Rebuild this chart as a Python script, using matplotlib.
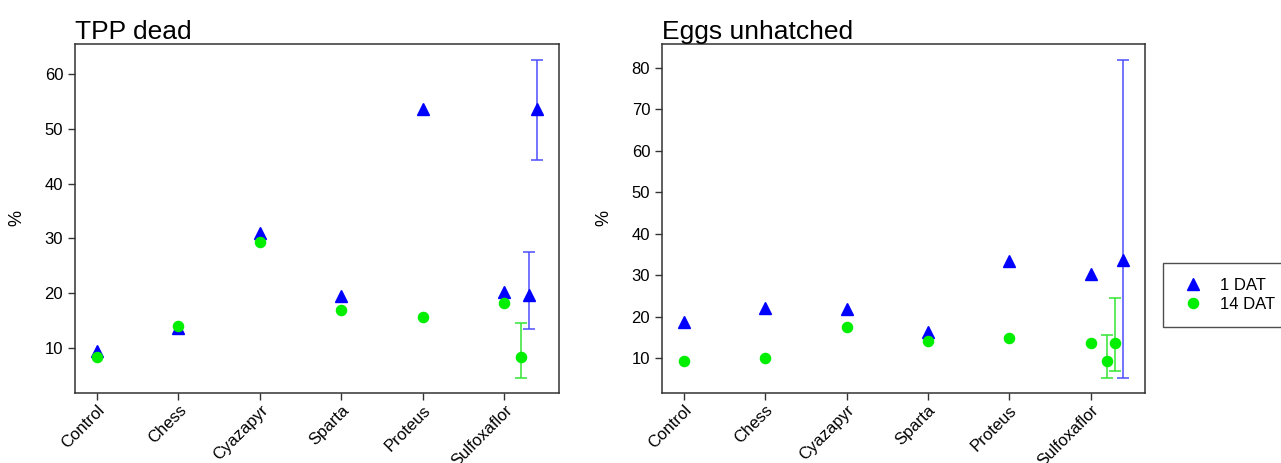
import matplotlib
matplotlib.use("Agg")
import matplotlib.pyplot as plt
from matplotlib.lines import Line2D

plt.rcParams['font.family'] = ['Liberation Sans', 'DejaVu Sans']

# categories on the x axis
treatments = ['Control', 'Chess', 'Cyazapyr', 'Sparta', 'Proteus', 'Sulfoxaflor']

# TPP dead (%)
tpp_1dat = [9.5, 13.6, 31.0, 19.5, 53.6, 20.3]
tpp_14dat = [8.3, 14.0, 29.3, 17.0, 15.7, 18.2]

# Eggs unhatched (%)
egg_1dat = [18.8, 22.0, 21.8, 16.2, 33.5, 30.3]
egg_14dat = [9.4, 10.0, 17.6, 14.2, 14.9, 13.6]

# extra points with error bars, right of Sulfoxaflor
tpp_err_x = [5.2, 5.3, 5.4]
tpp_err_series = ['14 DAT', '1 DAT', '1 DAT']
tpp_err_y = [8.3, 19.7, 53.6]
tpp_err_lo = [4.5, 13.5, 44.4]
tpp_err_hi = [14.6, 27.5, 62.5]

egg_err_x = [5.2, 5.3, 5.4]
egg_err_series = ['14 DAT', '14 DAT', '1 DAT']
egg_err_y = [9.4, 13.6, 33.7]
egg_err_lo = [5.3, 6.9, 5.2]
egg_err_hi = [15.5, 24.5, 81.8]

BLUE = '#0000ff'
GREEN = '#00ee00'
style = {
    '1 DAT': dict(marker='^', color=BLUE, ms=8, ecolor='#4d4dff'),
    '14 DAT': dict(marker='o', color=GREEN, ms=7.3, ecolor='#33e633'),
}


def panel(ax, title, d1, d14, ex, es, ey, elo, ehi, yticks, ylim):
    x = list(range(len(treatments)))
    ax.plot(x, d1, linestyle='none', marker='^', color=BLUE, ms=8, zorder=3)
    ax.plot(x, d14, linestyle='none', marker='o', color=GREEN, ms=7.3, zorder=3)
    for xi, s, yi, lo, hi in zip(ex, es, ey, elo, ehi):
        st = style[s]
        ax.errorbar([xi], [yi], yerr=[[yi - lo], [hi - yi]], fmt='none',
                    ecolor=st['ecolor'], elinewidth=1.1, capsize=4, capthick=1.1, zorder=2)
        ax.plot([xi], [yi], linestyle='none', marker=st['marker'], color=st['color'],
                ms=st['ms'], zorder=3)
    ax.set_xlim(-0.27, 5.67)
    ax.set_ylim(*ylim)
    ax.set_yticks(yticks)
    ax.set_xticks(x)
    ax.set_xticklabels(treatments, rotation=45, ha='right', va='top',
                       rotation_mode='anchor', fontsize=12)
    ax.tick_params(axis='both', direction='out', length=5, width=1, color='#333333', labelsize=12)
    ax.tick_params(axis='x', pad=2)
    for sp in ax.spines.values():
        sp.set_color('#333333')
        sp.set_linewidth(1.1)
    ax.set_title(title, loc='left', fontsize=19, pad=3)
    ax.set_ylabel('%', fontsize=13)
    ax.yaxis.set_label_coords(-50 / 484, 0.5)


fig = plt.figure(figsize=(12.81, 4.63), dpi=100)
ax1 = fig.add_axes([75 / 1281, 70 / 463, 484 / 1281, 349 / 463])
ax2 = fig.add_axes([662 / 1281, 70 / 463, 483 / 1281, 349 / 463])

panel(ax1, 'TPP dead', tpp_1dat, tpp_14dat, tpp_err_x, tpp_err_series,
      tpp_err_y, tpp_err_lo, tpp_err_hi, [10, 20, 30, 40, 50, 60], (1.8, 65.5))
panel(ax2, 'Eggs unhatched', egg_1dat, egg_14dat, egg_err_x, egg_err_series,
      egg_err_y, egg_err_lo, egg_err_hi, [10, 20, 30, 40, 50, 60, 70, 80], (1.6, 85.7))

handles = [
    Line2D([], [], linestyle='none', marker='^', color=BLUE, ms=8),
    Line2D([], [], linestyle='none', marker='o', color=GREEN, ms=7.3),
]
leg = fig.legend(handles, ['1 DAT', '14 DAT'], loc='upper left',
                 bbox_to_anchor=(1163 / 1281, 1 - 263 / 463), fontsize=12,
                 frameon=True, fancybox=False, edgecolor='#222222',
                 handlelength=1.8, handletextpad=0.7, borderpad=0.9,
                 labelspacing=0.25, borderaxespad=0)
leg.get_frame().set_linewidth(1.0)

fig.savefig('out.png', dpi=100)
